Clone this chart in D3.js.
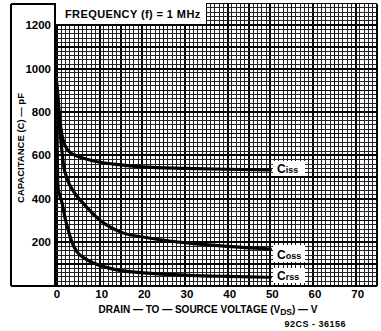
<!DOCTYPE html>
<html>
<head>
<meta charset="utf-8">
<script src="https://cdn.jsdelivr.net/npm/d3@7.9.0/dist/d3.min.js"></script>
<style>
  body { margin: 0; background: #fff; }
  text { font-family: "Liberation Sans", Arial, sans-serif; fill: #000; }
</style>
</head>
<body>
<div id="chart"></div>
<script>
// values
const xTicks = [0, 10, 20, 30, 40, 50, 60, 70];
const yTicks = [200, 400, 600, 800, 1000, 1200];

const cissV = [0, 0.3, 0.7, 1.2, 2, 3, 5, 7, 10, 15, 20, 30, 40, 50];
const cissC = [930, 850, 760, 690, 640, 615, 595, 582, 568, 556, 547, 540, 536, 533];

const cossV = [0, 0.3, 0.7, 1.1, 1.5, 2.5, 4, 6, 10, 15, 22, 31, 40, 50];
const cossC = [900, 800, 710, 630, 560, 485, 430, 382, 302, 246, 218, 195, 180, 168];

const crssV = [0, 0.1, 0.2, 0.6, 1.2, 1.9, 2.5, 3.5, 4.7, 6.5, 9, 14, 22, 31, 40, 50];
const crssC = [720, 560, 460, 420, 380, 310, 265, 200, 155, 125, 100, 72, 56, 47, 42, 38];

const series = [
  { name: 'C', sub: 'iss', v: cissV, c: cissC },
  { name: 'C', sub: 'oss', v: cossV, c: cossC },
  { name: 'C', sub: 'rss', v: crssV, c: crssC }
];

const width = 381, height = 331;

const svg = d3.select('#chart').append('svg')
  .attr('width', width)
  .attr('height', height);

const x = d3.scaleLinear().domain([0, 75]).range([57, 377]);
const y = d3.scaleLinear().domain([0, 1300]).range([285.5, 3.5]);

// graph paper grid
const grid = svg.append('g').attr('shape-rendering', 'crispEdges');
for (let v = 0; v <= 75; v += 1) {
  const w = v % 10 === 0 ? 2 : (v % 5 === 0 ? 1.5 : 1);
  grid.append('line')
    .attr('x1', x(v)).attr('x2', x(v))
    .attr('y1', y(1300)).attr('y2', y(0))
    .attr('stroke', v % 5 === 0 ? '#000' : '#222')
    .attr('stroke-width', w);
}
for (let c = 0; c <= 1300; c += 20) {
  const w = c % 200 === 0 ? 2 : (c % 100 === 0 ? 1.5 : 1);
  grid.append('line')
    .attr('x1', 55).attr('x2', x(75))
    .attr('y1', y(c)).attr('y2', y(c))
    .attr('stroke', c % 100 === 0 ? '#000' : '#222')
    .attr('stroke-width', w);
}

// outer frame
const frame = svg.append('g').attr('shape-rendering', 'crispEdges')
  .attr('stroke', '#000').attr('stroke-width', 1.5).attr('fill', 'none');
frame.append('line').attr('x1', 11).attr('x2', 11).attr('y1', 4).attr('y2', 286);
frame.append('line').attr('x1', 11).attr('x2', 377).attr('y1', 286).attr('y2', 286);
frame.append('line').attr('x1', 11).attr('x2', 55).attr('y1', 4).attr('y2', 4);
frame.append('line').attr('x1', 55).attr('x2', 55).attr('y1', 4).attr('y2', 286);

// frequency box
svg.append('rect')
  .attr('x', 56).attr('y', 3).attr('width', 150).attr('height', 21)
  .attr('fill', '#fff');
svg.append('text')
  .attr('x', 65).attr('y', 18)
  .attr('font-size', 11).attr('font-weight', 'bold')
  .attr('letter-spacing', 0.4)
  .text('FREQUENCY (f) = 1 MHz');

// curves
const line = d3.line()
  .x(d => x(d[0]))
  .y(d => y(d[1]))
  .curve(d3.curveMonotoneX);

series.forEach(s => {
  const pts = s.v.map((v, i) => [v, s.c[i]]);
  svg.append('path')
    .datum(pts)
    .attr('d', line)
    .attr('fill', 'none')
    .attr('stroke', '#000')
    .attr('stroke-width', 3.2)
    .attr('stroke-linecap', 'round');
});

// curve labels
const labelBoxes = [
  { top: 161, h: 15 },
  { top: 245, h: 17 },
  { top: 268, h: 15 }
];
series.forEach((s, i) => {
  const b = labelBoxes[i];
  svg.append('rect')
    .attr('x', 273).attr('y', b.top).attr('width', 32).attr('height', b.h)
    .attr('fill', '#fff');
  const t = svg.append('text')
    .attr('x', 277).attr('y', b.top + b.h - 3)
    .attr('font-weight', 'bold');
  t.append('tspan').attr('font-size', 12).text(s.name);
  t.append('tspan').attr('font-size', 9).text(s.sub);
});

// tick labels
svg.append('g').selectAll('text')
  .data(xTicks)
  .join('text')
  .attr('x', d => x(d) + (d === 0 ? 0 : 2))
  .attr('y', 298)
  .attr('text-anchor', 'middle')
  .attr('font-size', 11.5)
  .attr('font-weight', 'bold')
  .text(d => d);

svg.append('g').selectAll('text')
  .data(yTicks)
  .join('text')
  .attr('x', 51)
  .attr('y', d => y(d) + 4)
  .attr('text-anchor', 'end')
  .attr('font-size', 11.5)
  .attr('font-weight', 'bold')
  .text(d => d);

// axis titles
svg.append('text')
  .attr('transform', `translate(24, 148) rotate(-90)`)
  .attr('text-anchor', 'middle')
  .attr('font-size', 9.5)
  .attr('font-weight', 'bold')
  .text('CAPACITANCE (C) — pF');

const xt = svg.append('text')
  .attr('x', 208).attr('y', 313)
  .attr('text-anchor', 'middle')
  .attr('font-size', 10)
  .attr('font-weight', 'bold');
xt.append('tspan').text('DRAIN — TO — SOURCE VOLTAGE (V');
xt.append('tspan').attr('font-size', 8.5).attr('dy', 2).text('DS');
xt.append('tspan').attr('dy', -2).text(') — V');

svg.append('text')
  .attr('x', 346).attr('y', 327)
  .attr('text-anchor', 'end')
  .attr('font-size', 9)
  .attr('font-weight', 'bold')
  .attr('letter-spacing', 0.5)
  .text('92CS - 36156');
</script>
</body>
</html>
